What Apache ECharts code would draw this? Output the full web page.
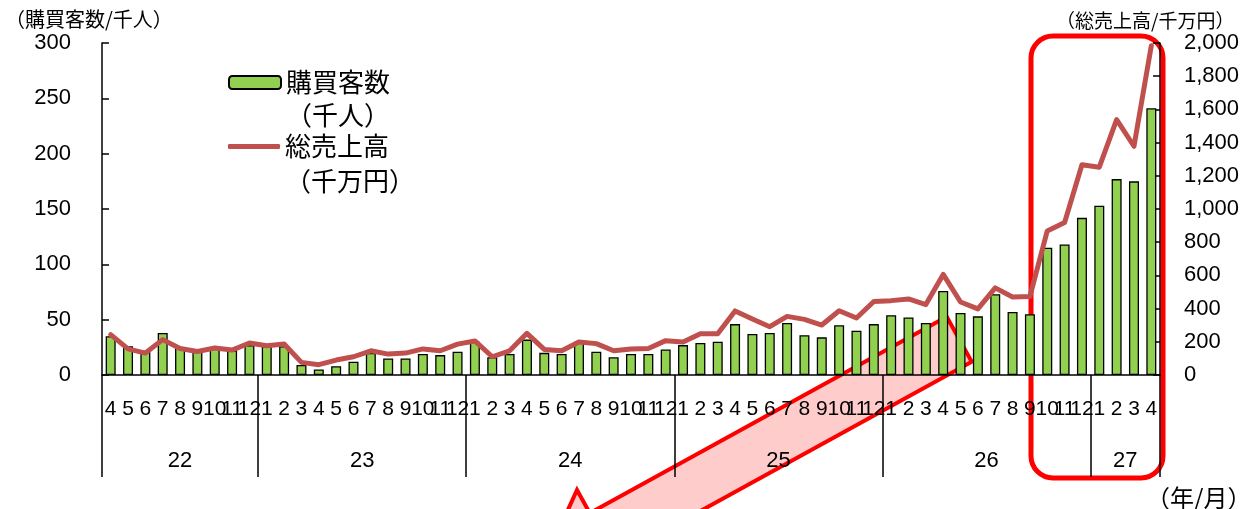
<!DOCTYPE html>
<html>
<head>
<meta charset="utf-8">
<script src="https://cdn.jsdelivr.net/npm/echarts@6/dist/echarts.min.js"></script>
<style>
  html, body { margin: 0; padding: 0; background: #fff; }
  #chart { width: 1247px; height: 509px; }
</style>
</head>
<body>
<div id="chart"></div>
<script>
// months shown on the axis, per year
const years = ['22', '23', '24', '25', '26', '27']
const monthsByYear = [
  [4, 5, 6, 7, 8, 9, 10, 11, 12],
  [1, 2, 3, 4, 5, 6, 7, 8, 9, 10, 11, 12],
  [1, 2, 3, 4, 5, 6, 7, 8, 9, 10, 11, 12],
  [1, 2, 3, 4, 5, 6, 7, 8, 9, 10, 11, 12],
  [1, 2, 3, 4, 5, 6, 7, 8, 9, 10, 11, 12],
  [1, 2, 3, 4]
]

// 購買客数（千人）
const customers = [
  35, 26, 22, 38, 25, 21, 24, 22, 27,
  26, 26, 9, 5, 8, 12, 20, 15, 15, 19, 18, 21,
  30, 16, 19, 32, 20, 19, 30, 21, 16, 19, 19, 23,
  27, 29, 30, 46, 37, 38, 47, 36, 34, 45, 40, 46,
  54, 52, 47, 76, 56, 53, 73, 57, 55, 115, 118, 142,
  153, 177, 175, 241
]

// 総売上高（千万円）
const sales = [
  243, 157, 132, 213, 160, 142, 163, 150, 193,
  176, 187, 76, 62, 90, 110, 146, 126, 132, 157, 146, 186,
  205, 110, 146, 251, 154, 146, 199, 189, 146, 157, 160, 207,
  199, 249, 249, 386, 337, 291, 353, 335, 301, 387, 343, 443,
  448, 458, 424, 606, 440, 398, 525, 470, 473, 868, 919, 1267,
  1252, 1539, 1378, 1984
]

const leftTicks = [0, 50, 100, 150, 200, 250, 300]
const rightTicks = [0, 200, 400, 600, 800, 1000, 1200, 1400, 1600, 1800, 2000]

const NAME_BAR = '購買客数\n（千人）'
const NAME_LINE = '総売上高\n（千万円）'
const JP = '"Noto Sans CJK JP", sans-serif'
const NUM = '"Liberation Sans", Arial, sans-serif'

const categories = []
const yearEdges = [0]
const yearCenters = []
monthsByYear.forEach((ms, i) => {
  ms.forEach(m => categories.push(years[i] + '/' + m))
  const start = yearEdges[yearEdges.length - 1]
  yearEdges.push(start + ms.length)
  yearCenters.push(start + ms.length / 2)
})

const chart = echarts.init(document.getElementById('chart'))
chart.setOption({
  backgroundColor: '#ffffff',
  animation: false,
  title: [
    { text: '（購買客数/千人）', left: 0, top: 4, textStyle: { fontFamily: JP, fontSize: 20, fontWeight: 'normal', color: '#000' } },
    { text: '（総売上高/千万円）', left: 1051, top: 6, textStyle: { fontFamily: JP, fontSize: 19, fontWeight: 'normal', color: '#000' } },
    { text: '（年/月）', left: 1141, top: 481, textStyle: { fontFamily: JP, fontSize: 24, fontWeight: 'normal', color: '#000' } }
  ],
  grid: {
    left: 102,
    right: 87,
    top: 43,
    bottom: 134,
    outerBoundsMode: 'none'
  },
  // a blank first line keeps the icon level with the first text line
  legend: [
    {
      data: [NAME_BAR],
      left: 228,
      top: 33,
      padding: 0,
      itemWidth: 52,
      itemHeight: 13,
      formatter: name => '\n' + name,
      textStyle: { fontFamily: JP, fontSize: 26, lineHeight: 33, color: '#000' }
    },
    {
      data: [{ name: NAME_LINE, icon: 'roundRect' }],
      left: 228,
      top: 94,
      padding: 0,
      itemWidth: 52,
      itemHeight: 5,
      formatter: name => '\n' + name,
      textStyle: { fontFamily: JP, fontSize: 26, lineHeight: 35, color: '#000' }
    }
  ],
  xAxis: [
    {
      type: 'category',
      position: 'bottom',
      data: categories,
      axisLine: { lineStyle: { color: '#000', width: 1.5 } },
      axisTick: { interval: 0, length: 50, lineStyle: { color: '#000', width: 1.5 } },
      axisLabel: {
        interval: 0,
        margin: 24,
        fontFamily: NUM,
        fontSize: 21,
        color: '#000',
        formatter: v => v.split('/')[1]
      },
      splitLine: { show: false }
    },
    {
      type: 'value',
      position: 'bottom',
      min: 0,
      max: categories.length,
      axisLine: { show: false },
      axisTick: { show: true, customValues: yearEdges, length: 102, lineStyle: { color: '#000', width: 1.5 } },
      axisLabel: {
        customValues: yearCenters,
        margin: 75,
        fontFamily: NUM,
        fontSize: 22,
        color: '#000',
        formatter: v => years[yearCenters.indexOf(v)]
      },
      splitLine: { show: false }
    }
  ],
  yAxis: [
    {
      type: 'value',
      min: 0,
      max: leftTicks[leftTicks.length - 1],
      interval: leftTicks[1] - leftTicks[0],
      axisLine: { show: true, lineStyle: { color: '#000', width: 1.5 } },
      axisTick: { show: true, inside: true, length: 7, lineStyle: { color: '#000', width: 1.5 } },
      axisLabel: { margin: 31, fontFamily: NUM, fontSize: 22, color: '#000' },
      splitLine: { show: false }
    },
    {
      type: 'value',
      position: 'right',
      min: 0,
      max: rightTicks[rightTicks.length - 1],
      interval: rightTicks[1] - rightTicks[0],
      axisLine: { show: true, lineStyle: { color: '#000', width: 1.5 } },
      axisTick: { show: true, inside: true, length: 7, lineStyle: { color: '#000', width: 1.5 } },
      axisLabel: {
        margin: 24,
        fontFamily: NUM,
        fontSize: 22,
        color: '#000',
        formatter: v => v.toLocaleString('en-US')
      },
      splitLine: { show: false }
    }
  ],
  // red callouts drawn behind the data
  graphic: [
    {
      type: 'polygon',
      z: -10,
      shape: {
        points: [[946.7, 316.7], [589.8, 513.1], [577, 490], [541, 569], [627.4, 581.2], [614.8, 558.1], [971.7, 361.7]]
      },
      style: { fill: '#FFCCCC', stroke: '#FF0000', lineWidth: 4, lineJoin: 'miter' }
    },
    {
      type: 'rect',
      z: -10,
      shape: { x: 1031, y: 36, width: 132, height: 442, r: 22 },
      style: { fill: 'none', stroke: '#FF0000', lineWidth: 5 }
    }
  ],
  series: [
    {
      name: NAME_BAR,
      type: 'bar',
      xAxisIndex: 0,
      yAxisIndex: 0,
      barWidth: 10,
      itemStyle: { color: '#92D050', borderColor: '#000', borderWidth: 1.3 },
      data: customers
    },
    {
      name: NAME_LINE,
      type: 'line',
      xAxisIndex: 0,
      yAxisIndex: 1,
      symbol: 'none',
      lineStyle: { color: '#C0504D', width: 5, cap: 'round', join: 'round' },
      itemStyle: { color: '#C0504D' },
      data: sales
    }
  ]
})
</script>
</body>
</html>
